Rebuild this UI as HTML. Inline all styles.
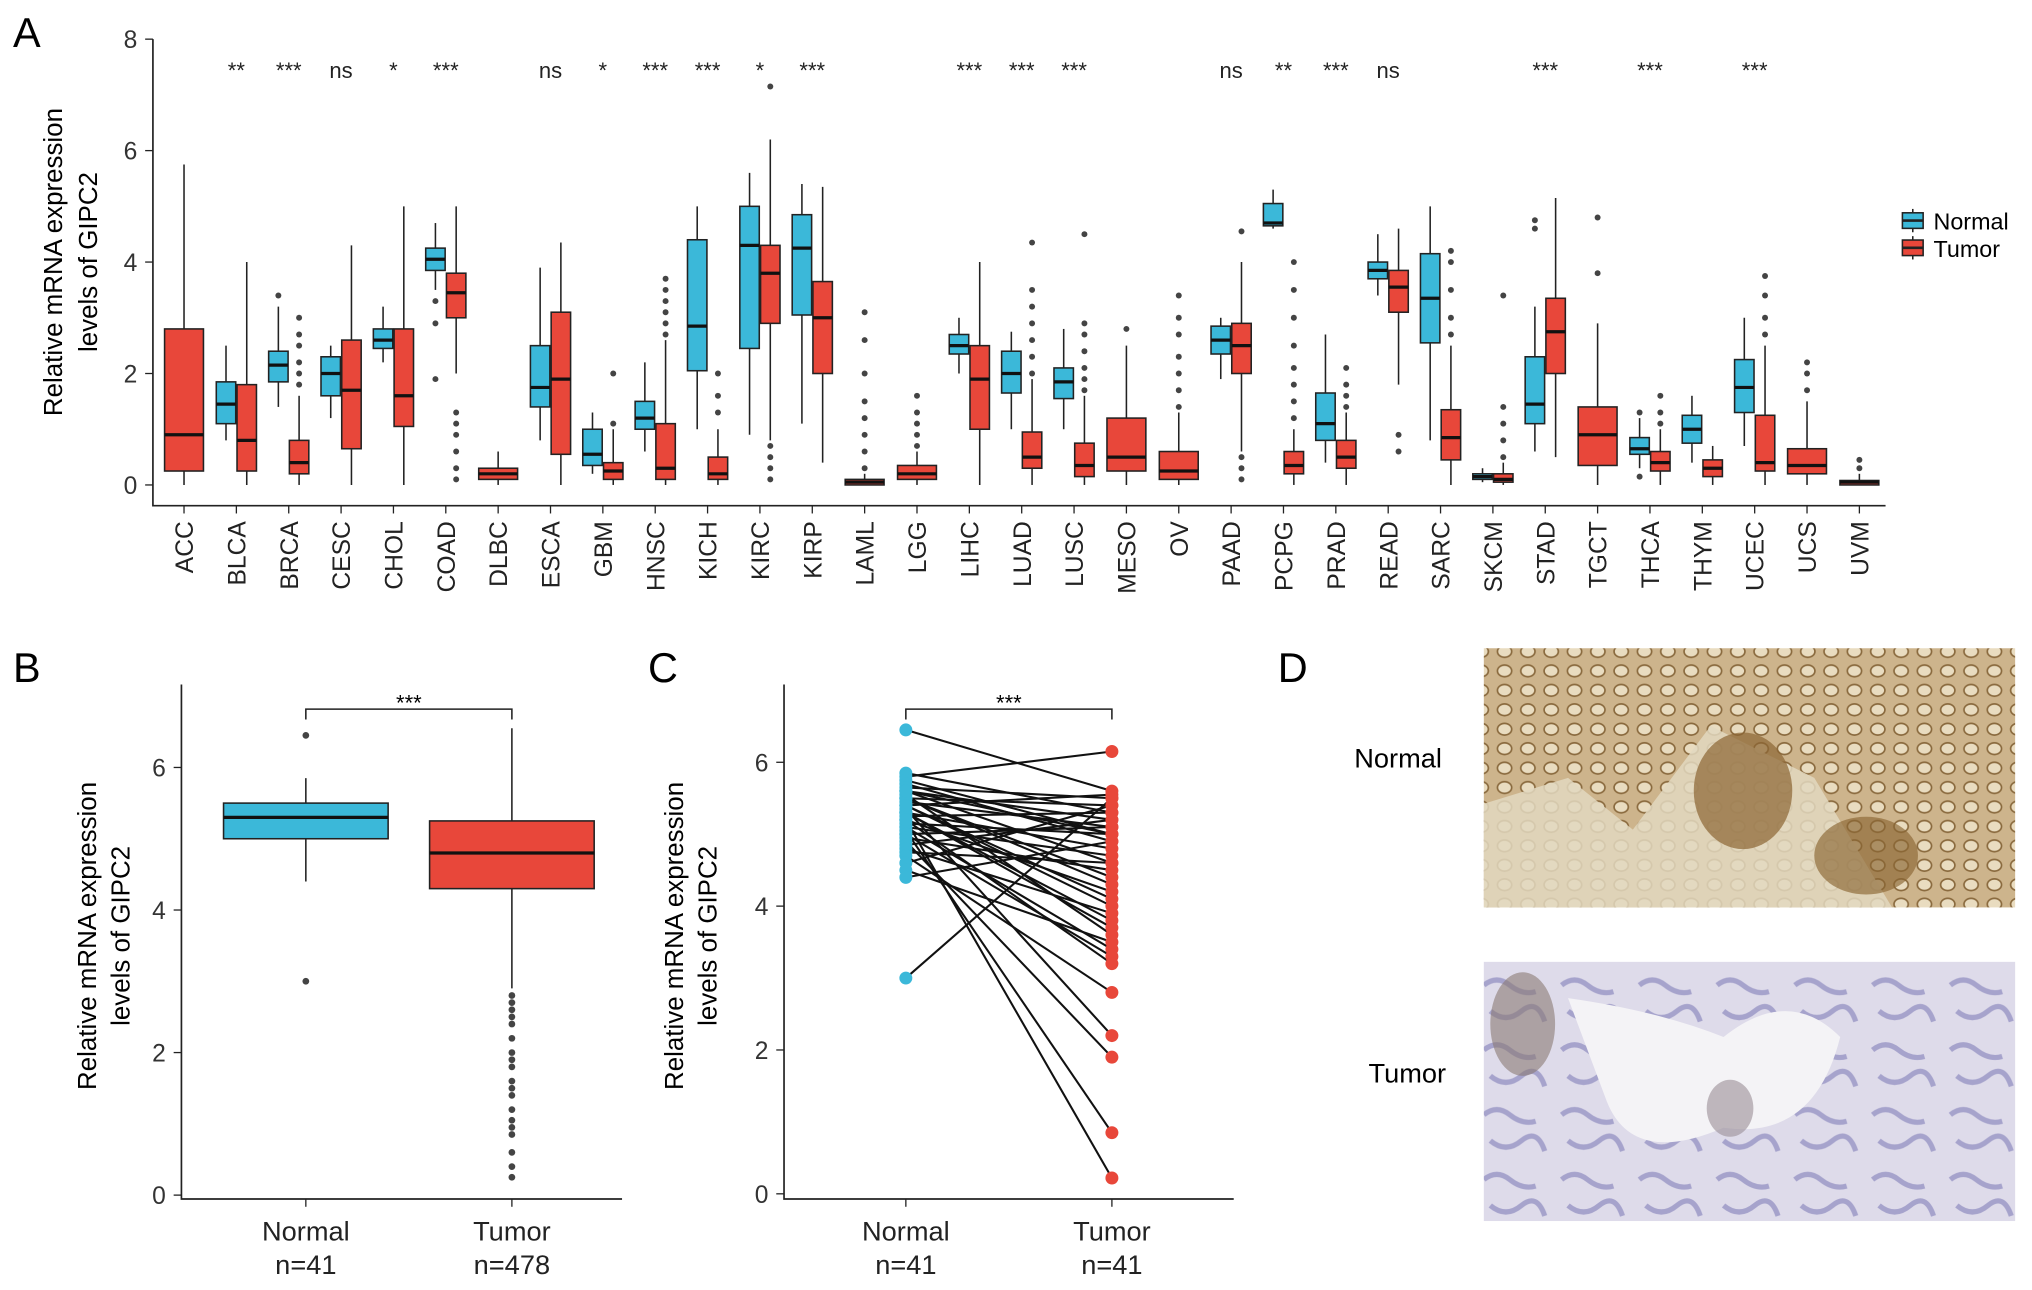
<!DOCTYPE html>
<html><head><meta charset="utf-8">
<style>
html,body{margin:0;padding:0;background:#fff;}
svg{display:block;font-family:"Liberation Sans",sans-serif;}
</style></head>
<body>
<svg id="fig" width="2032" height="1290" viewBox="0 0 1568 995" xmlns="http://www.w3.org/2000/svg">
  <text x="10" y="36" font-size="32">A</text>
  <text x="10" y="526" font-size="32">B</text>
  <text x="500" y="526" font-size="32">C</text>
  <text x="986" y="526" font-size="32">D</text>
  <g>
    <g>
      <line x1="1476" y1="161" x2="1476" y2="179" stroke="#222" stroke-width="1.2"/>
      <rect x="1468" y="164" width="16" height="12" fill="#3BB8D9" stroke="#222" stroke-width="1.2"/>
      <line x1="1468" y1="170" x2="1484" y2="170" stroke="#222" stroke-width="2"/>
      <text x="1492" y="177" font-size="18">Normal</text>
    </g>
    <g>
      <line x1="1476" y1="182" x2="1476" y2="200" stroke="#222" stroke-width="1.2"/>
      <rect x="1468" y="185" width="16" height="12" fill="#E8473A" stroke="#222" stroke-width="1.2"/>
      <line x1="1468" y1="191" x2="1484" y2="191" stroke="#222" stroke-width="2"/>
      <text x="1492" y="198" font-size="18">Tumor</text>
    </g>
  </g>
  <g>
    <text x="1045" y="592" font-size="21">Normal</text>
    <text x="1056" y="835" font-size="21">Tumor</text>
    <defs>
      <pattern id="crypt" width="18" height="15" patternUnits="userSpaceOnUse">
        <rect width="18" height="15" fill="#cdb48c"/>
        <ellipse cx="9" cy="7.5" rx="5.5" ry="4.5" fill="#e9dcc0" stroke="#8a6a3e" stroke-width="1.3"/>
      </pattern>
      <pattern id="tum" width="60" height="50" patternUnits="userSpaceOnUse">
        <rect width="60" height="50" fill="#dedbea"/>
        <path d="M5 10 q10 -8 20 0 t20 5 M10 30 q12 10 24 0 t18 8" stroke="#a6a3cc" stroke-width="4" fill="none"/>
      </pattern>
    </defs>
    <g>
      <rect x="1145" y="500" width="410" height="200" fill="url(#crypt)"/>
      <path d="M1145 620 L1210 600 L1260 640 L1320 560 L1400 600 L1460 700 L1145 700 Z" fill="#e2d8c0" opacity="0.85"/>
      <ellipse cx="1345" cy="610" rx="38" ry="45" fill="#8b6533" opacity="0.7"/>
      <ellipse cx="1440" cy="660" rx="40" ry="30" fill="#8b6533" opacity="0.65"/>
    </g>
    <g>
      <rect x="1145" y="742" width="410" height="200" fill="url(#tum)"/>
      <path d="M1210 770 Q1280 780 1330 800 Q1380 760 1420 800 Q1400 880 1330 870 Q1260 900 1240 850 Z" fill="#f4f3f6"/>
      <ellipse cx="1175" cy="790" rx="25" ry="40" fill="#8a7a73" opacity="0.6"/>
      <ellipse cx="1335" cy="855" rx="18" ry="22" fill="#9a8d96" opacity="0.6"/>
    </g>
  </g>
</svg>
<script>
// ---------- Panel A data ----------
const catsA = ["ACC","BLCA","BRCA","CESC","CHOL","COAD","DLBC","ESCA","GBM","HNSC","KICH","KIRC","KIRP","LAML","LGG","LIHC","LUAD","LUSC","MESO","OV","PAAD","PCPG","PRAD","READ","SARC","SKCM","STAD","TGCT","THCA","THYM","UCEC","UCS","UVM"];
// [whiskerLow, q1, median, q3, whiskerHigh]; null = no normal samples
const normalStats = [null,[0.8,1.1,1.45,1.85,2.5],[1.4,1.85,2.15,2.4,3.2],[1.2,1.6,2.0,2.3,2.5],[2.2,2.45,2.6,2.8,3.2],[3.5,3.85,4.05,4.25,4.7],null,[0.8,1.4,1.75,2.5,3.9],[0.2,0.35,0.55,1.0,1.3],[0.6,1.0,1.2,1.5,2.2],[1.0,2.05,2.85,4.4,5.0],[0.9,2.45,4.3,5.0,5.6],[1.1,3.05,4.25,4.85,5.4],null,null,[2.0,2.35,2.5,2.7,3.0],[1.0,1.65,2.0,2.4,2.75],[1.0,1.55,1.85,2.1,2.8],null,null,[1.9,2.35,2.6,2.85,3.0],[4.6,4.65,4.7,5.05,5.3],[0.4,0.8,1.1,1.65,2.7],[3.4,3.7,3.85,4.0,4.5],[0.8,2.55,3.35,4.15,5.0],[0.05,0.1,0.15,0.2,0.3],[0.6,1.1,1.45,2.3,3.2],null,[0.3,0.55,0.65,0.85,1.2],[0.4,0.75,1.0,1.25,1.6],[0.7,1.3,1.75,2.25,3.0],null,null];
const tumorStats = [[0,0.25,0.9,2.8,5.75],[0,0.25,0.8,1.8,4.0],[0,0.2,0.4,0.8,1.6],[0,0.65,1.7,2.6,4.3],[0,1.05,1.6,2.8,5.0],[2.0,3.0,3.45,3.8,5.0],[0,0.1,0.2,0.3,0.6],[0,0.55,1.9,3.1,4.35],[0,0.1,0.25,0.4,1.0],[0,0.1,0.3,1.1,2.6],[0,0.1,0.2,0.5,1.0],[0.8,2.9,3.8,4.3,6.2],[0.4,2.0,3.0,3.65,5.35],[0,0,0.05,0.1,0.2],[0,0.1,0.2,0.35,0.6],[0,1.0,1.9,2.5,4.0],[0,0.3,0.5,0.95,1.9],[0,0.15,0.35,0.75,1.6],[0,0.25,0.5,1.2,2.5],[0,0.1,0.25,0.6,1.3],[0.6,2.0,2.5,2.9,4.0],[0,0.2,0.35,0.6,1.0],[0,0.3,0.5,0.8,1.3],[1.8,3.1,3.55,3.85,4.6],[0,0.45,0.85,1.35,2.5],[0,0.05,0.1,0.2,0.4],[0.5,2.0,2.75,3.35,5.15],[0,0.35,0.9,1.4,2.9],[0,0.25,0.4,0.6,1.0],[0,0.15,0.3,0.45,0.7],[0,0.25,0.4,1.25,2.5],[0,0.2,0.35,0.65,1.5],[0,0,0.05,0.08,0.2]];
const tumorOutliers = [[],[],[1.8,2.0,2.2,2.5,2.7,3.0],[],[],[0.1,0.3,0.6,0.9,1.1,1.3],[],[],[1.1,2.0],[2.7,2.9,3.1,3.3,3.5,3.7],[1.3,1.6,2.0],[0.1,0.3,0.5,0.7,7.15],[],[0.3,0.6,0.9,1.2,1.5,2.0,2.6,3.1],[0.7,0.9,1.1,1.3,1.6],[],[2.0,2.3,2.6,2.9,3.2,3.5,4.35],[1.7,1.9,2.1,2.4,2.7,2.9,4.5],[2.8],[1.4,1.7,2.0,2.3,2.7,3.0,3.4],[0.1,0.3,0.5,4.55],[1.2,1.5,1.8,2.1,2.5,3.0,3.5,4.0],[1.4,1.6,1.8,2.1],[0.6,0.9],[2.7,3.0,3.5,4.0,4.2],[0.5,0.8,1.1,1.4,3.4],[],[3.8,4.8],[1.1,1.3,1.6],[],[2.7,3.0,3.4,3.75],[1.7,2.0,2.2],[0.3,0.45]];
const normalOutliers = [[],[],[3.4],[],[],[2.9,3.3,1.9],[],[],[],[],[],[],[],[],[],[],[],[],[],[],[],[],[],[],[],[],[4.6,4.75],[],[0.15,1.3],[],[],[],[]];
const sigLabels = ["","**","***","ns","*","***","","ns","*","***","***","*","***","","","***","***","***","","","ns","**","***","ns","","","***","","***","","***","",""];
const ticksA = [0,2,4,6,8];

// ---------- Panel B data ----------
const groupsB = ["Normal","Tumor"];
const countsB = ["n=41","n=478"];
const statsB = [[4.4,5.0,5.3,5.5,5.85],[2.9,4.3,4.8,5.25,6.55]];
const outliersB = [[6.45,3.0],[2.8,2.7,2.6,2.5,2.4,2.2,2.0,1.9,1.8,1.6,1.5,1.4,1.2,1.05,0.95,0.85,0.6,0.4,0.25]];
const ticksB = [0,2,4,6];

// ---------- Panel C data ----------
const groupsC = ["Normal","Tumor"];
const countsC = ["n=41","n=41"];
const pairedNormal = [6.45,5.85,5.8,5.75,5.7,5.65,5.6,5.6,5.55,5.5,5.5,5.45,5.4,5.4,5.35,5.3,5.3,5.25,5.2,5.2,5.15,5.1,5.1,5.05,5.0,5.0,4.95,4.9,4.85,4.8,4.75,4.7,4.6,4.5,4.4,5.5,5.3,5.6,5.2,5.4,3.0];
const pairedTumor = [5.6,5.3,6.15,5.0,4.9,5.5,4.6,5.2,3.6,5.4,4.4,5.1,4.0,5.55,2.2,4.8,3.8,5.3,0.22,4.2,5.0,3.4,4.7,0.85,5.1,3.3,4.5,1.9,5.2,3.9,4.6,2.8,5.4,3.5,4.9,4.3,3.7,5.0,3.2,4.1,5.5];
const ticksC = [0,2,4,6];

const NS = "http://www.w3.org/2000/svg";
const svg = document.getElementById("fig");
const BLUE = "#3BB8D9", RED = "#E8473A";
function mk(tag, attrs, parent) {
  const e = document.createElementNS(NS, tag);
  for (const k in attrs) e.setAttribute(k, attrs[k]);
  (parent || svg).appendChild(e);
  return e;
}

// ---------- Panel A ----------
const yA = v => 374 - v * 43;
const xA = i => 142 + i * 40.4;
const gA = mk("g", {});


const axA = mk("path", {d: "M118 30 V390 H1455", stroke: "#222", fill: "none", "stroke-width": 1.3}, gA);


ticksA.forEach(t => {
  mk("line", {x1: 112, x2: 118, y1: yA(t), y2: yA(t), stroke: "#222"}, gA);
  const tx = mk("text", {x: 106, y: yA(t) + 7, "font-size": 19, "text-anchor": "end", fill: "#333"}, gA);
  tx.textContent = t;
  
  
});
const ttlA = mk("text", {transform: "translate(48,202) rotate(-90)", "font-size": 20, "text-anchor": "middle"}, gA);
ttlA.textContent = "Relative mRNA expression";


const ttlA2 = mk("text", {transform: "translate(75,202) rotate(-90)", "font-size": 20, "text-anchor": "middle"}, gA);
ttlA2.textContent = "levels of GIPC2";



function drawBox(g, cx, w, s, fill, outl, y, r) {
  const bg = mk("g", {}, g);
  mk("line", {x1: cx, x2: cx, y1: y(s[0]), y2: y(s[4]), stroke: "#222", "stroke-width": 1.2}, bg);
  mk("rect", {x: cx - w / 2, y: y(s[3]), width: w, height: Math.max(1, y(s[1]) - y(s[3])), fill: fill, stroke: "#222", "stroke-width": 1.2}, bg);
  mk("line", {x1: cx - w / 2, x2: cx + w / 2, y1: y(s[2]), y2: y(s[2]), stroke: "#111", "stroke-width": 2.5}, bg);
  outl.forEach(v => mk("circle", {cx: cx, cy: y(v), r: r, fill: "#444"}, bg));
  return bg;
}
catsA.forEach((c, i) => {
  const cx = xA(i);
  mk("line", {x1: cx, x2: cx, y1: 390, y2: 396, stroke: "#222"}, gA);
  const lb = mk("text", {transform: `translate(${cx + 7},402) rotate(-90)`, "font-size": 19, "text-anchor": "end", fill: "#222"}, gA);
  lb.textContent = c;
  
  
  if (normalStats[i]) {
    const nb = drawBox(gA, cx - 8, 15, normalStats[i], BLUE, normalOutliers[i], yA, 2.3);
    
    
    const tb = drawBox(gA, cx + 8, 15, tumorStats[i], RED, tumorOutliers[i], yA, 2.3);
    
    
  } else {
    const tb = drawBox(gA, cx, 30, tumorStats[i], RED, tumorOutliers[i], yA, 2.3);
    
    
  }
  if (sigLabels[i]) {
    const st = mk("text", {x: cx, y: 60, "font-size": 17, "text-anchor": "middle", fill: "#222"}, gA);
    st.textContent = sigLabels[i];
    
    
  }
});

// ---------- Panel B ----------
const yB = v => 922 - v * 55;
const xB = i => 236 + i * 159;
const gB = mk("g", {});


const axB = mk("path", {d: "M140 528 V925 H480", stroke: "#222", fill: "none", "stroke-width": 1.3}, gB);


ticksB.forEach(t => {
  mk("line", {x1: 134, x2: 140, y1: yB(t), y2: yB(t), stroke: "#222"}, gB);
  const tx = mk("text", {x: 128, y: yB(t) + 7, "font-size": 19, "text-anchor": "end", fill: "#333"}, gB);
  tx.textContent = t;
  
  
});
[["Relative mRNA expression", 74], ["levels of GIPC2", 100]].forEach(([s, x]) => {
  const t = mk("text", {transform: `translate(${x},722) rotate(-90)`, "font-size": 20, "text-anchor": "middle"}, gB);
  t.textContent = s;
  
  
});
groupsB.forEach((g, i) => {
  const bb = drawBox(gB, xB(i), 127, statsB[i], i ? RED : BLUE, outliersB[i], yB, 2.6);
  
  
  mk("line", {x1: xB(i), x2: xB(i), y1: 925, y2: 931, stroke: "#222"}, gB);
  const l1 = mk("text", {x: xB(i), y: 957, "font-size": 21, "text-anchor": "middle", fill: "#222"}, gB);
  l1.textContent = g;
  
  
  const l2 = mk("text", {x: xB(i), y: 983, "font-size": 21, "text-anchor": "middle", fill: "#222"}, gB);
  l2.textContent = countsB[i];
  
  
});
const brB = mk("path", {d: `M${xB(0)} 555 V547 H${xB(1)} V555`, stroke: "#222", fill: "none", "stroke-width": 1.2}, gB);


const sB = mk("text", {x: (xB(0) + xB(1)) / 2, y: 548, "font-size": 17, "text-anchor": "middle"}, gB);
sB.textContent = "***";



// ---------- Panel C ----------
const yC = v => 921 - v * 55.5;
const xC = i => 699 + i * 159;
const gC = mk("g", {});


const axC = mk("path", {d: "M605 528 V925 H952", stroke: "#222", fill: "none", "stroke-width": 1.3}, gC);


ticksC.forEach(t => {
  mk("line", {x1: 599, x2: 605, y1: yC(t), y2: yC(t), stroke: "#222"}, gC);
  const tx = mk("text", {x: 593, y: yC(t) + 7, "font-size": 19, "text-anchor": "end", fill: "#333"}, gC);
  tx.textContent = t;
  
  
});
[["Relative mRNA expression", 527], ["levels of GIPC2", 553]].forEach(([s, x]) => {
  const t = mk("text", {transform: `translate(${x},722) rotate(-90)`, "font-size": 20, "text-anchor": "middle"}, gC);
  t.textContent = s;
  
  
});
pairedNormal.forEach((v, k) => {
  const ln = mk("line", {x1: xC(0), y1: yC(v), x2: xC(1), y2: yC(pairedTumor[k]), stroke: "#111", "stroke-width": 1.6}, gC);
  
  
});
pairedNormal.forEach(v => {
  const p = mk("circle", {cx: xC(0), cy: yC(v), r: 5, fill: BLUE}, gC);
  
  
});
pairedTumor.forEach(v => {
  const p = mk("circle", {cx: xC(1), cy: yC(v), r: 5, fill: RED}, gC);
  
  
});
groupsC.forEach((g, i) => {
  mk("line", {x1: xC(i), x2: xC(i), y1: 925, y2: 931, stroke: "#222"}, gC);
  const l1 = mk("text", {x: xC(i), y: 957, "font-size": 21, "text-anchor": "middle", fill: "#222"}, gC);
  l1.textContent = g;
  
  
  const l2 = mk("text", {x: xC(i), y: 983, "font-size": 21, "text-anchor": "middle", fill: "#222"}, gC);
  l2.textContent = countsC[i];
  
  
});
const brC = mk("path", {d: `M${xC(0)} 555 V547 H${xC(1)} V555`, stroke: "#222", fill: "none", "stroke-width": 1.2}, gC);


const sC = mk("text", {x: (xC(0) + xC(1)) / 2, y: 548, "font-size": 17, "text-anchor": "middle"}, gC);
sC.textContent = "***";


</script>
</body></html>
